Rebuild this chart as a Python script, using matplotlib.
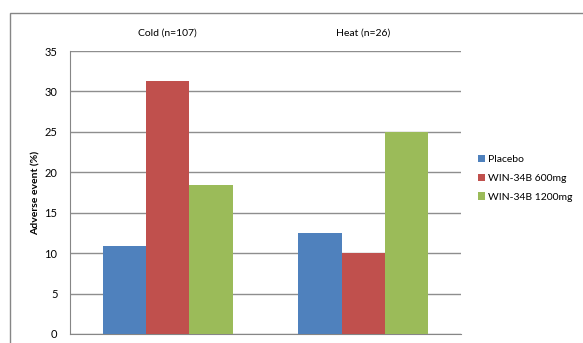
import matplotlib
matplotlib.use("Agg")
import matplotlib.pyplot as plt
import numpy as np
from matplotlib.patches import Rectangle

plt.rcParams['font.family'] = ['Lato', 'DejaVu Sans']

groups = ["Cold (n=107)", "Heat (n=26)"]
series = ["Placebo", "WIN-34B 600mg", "WIN-34B 1200mg"]
placebo = [10.9, 12.5]
win600 = [31.3, 10.0]
win1200 = [18.4, 25.0]
colors = ["#4F81BD", "#C0504D", "#9BBB59"]
yticks = [0, 5, 10, 15, 20, 25, 30, 35]

W, H = 583, 343
fig = plt.figure(figsize=(W / 100, H / 100), dpi=100)

# outer chart frame
fig.patches.append(Rectangle((10 / W, -0.1), 1.2, (H - 13) / H + 0.1,
                             transform=fig.transFigure, fill=False,
                             edgecolor="#868686", linewidth=1.0))

ax = fig.add_axes([70 / W, (H - 334) / H, (461 - 70) / W, (334 - 51) / H])

x = np.arange(len(groups))
bw = 0.222
for i, (vals, c, name) in enumerate(zip([placebo, win600, win1200], colors, series)):
    ax.bar(x + (i - 1) * bw, vals, width=bw, color=c, label=name, zorder=3)

ax.set_xlim(-0.5, 1.5)
ax.set_ylim(0, 35)
ax.set_yticks(yticks)
ax.set_yticklabels([str(v) for v in yticks], fontsize=8)
ax.yaxis.grid(True, color="#8E8E8E", linewidth=1.0, zorder=0)
ax.set_axisbelow(True)

ax.xaxis.tick_top()
ax.set_xticks(x)
ax.set_xticklabels(groups, fontsize=7.5)
ax.tick_params(axis="x", length=0, pad=10)
ax.tick_params(axis="y", length=0, pad=9)

for s in ["top", "right"]:
    ax.spines[s].set_visible(False)
for s in ["left", "bottom"]:
    ax.spines[s].set_color("#868686")

ax.set_ylabel("Adverse event (%)", fontsize=7.5, fontweight="bold", labelpad=3)

leg = ax.legend(loc="upper left", bbox_to_anchor=(478 / W, (H - 155) / H),
                bbox_transform=fig.transFigure, frameon=False, fontsize=7.5,
                handlelength=0.7, handleheight=0.7, handletextpad=0.3,
                labelspacing=0.9, borderaxespad=0, borderpad=0)

fig.savefig("out.png", dpi=100)
